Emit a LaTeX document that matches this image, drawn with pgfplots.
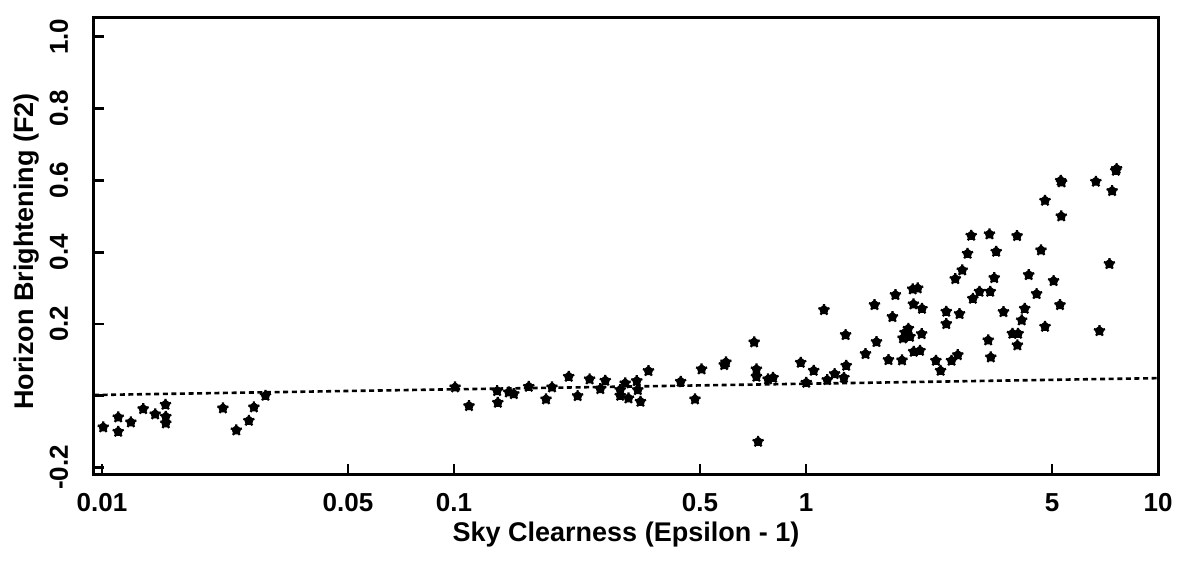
\documentclass[border=0pt]{standalone}
\usepackage{pgfplots}
\usepackage{pgfplotstable}
\pgfplotsset{compat=1.18}
\usepackage{fontspec}
\setmainfont{Liberation Sans}

\pgfplotstableread{
x y
0.01008 -0.0877
0.01112 -0.0599
0.01112 -0.1000
0.01208 -0.0738
0.01309 -0.0368
0.01416 -0.0515
0.01515 -0.0248
0.01518 -0.0582
0.01518 -0.0766
0.02206 -0.0348
0.02408 -0.0961
0.02614 -0.0694
0.02701 -0.0320
0.02914 0.0003
0.1007 0.0237
0.1103 -0.0284
0.1326 0.0134
0.1332 -0.0192
0.1431 0.0097
0.1479 0.0050
0.1631 0.0253
0.1826 -0.0097
0.1899 0.0237
0.2118 0.0532
0.2245 -0.0006
0.2428 0.0460
0.2604 0.0189
0.2690 0.0421
0.2966 0.0162
0.2966 0.0003
0.3064 0.0348
0.3131 -0.0070
0.3306 0.0412
0.3328 0.0162
0.3387 -0.0164
0.3568 0.0691
0.4405 0.0393
0.4838 -0.0097
0.5051 0.0738
0.5857 0.0858
0.5923 0.0933
0.7124 0.1490
0.7231 0.0738
0.7231 0.0532
0.7311 -0.1279
0.7805 0.0460
0.8063 0.0504
0.9661 0.0922
1.0019 0.0365
1.0515 0.0699
1.149 0.0440
1.1246 0.2390
1.206 0.0607
1.2814 0.0504
1.2958 0.1694
1.3009 0.0838
1.4761 0.1164
1.5652 0.2529
1.5858 0.1499
1.7152 0.0997
1.7604 0.2195
1.7952 0.2808
1.8743 0.0989
1.8864 0.1602
1.9113 0.1758
1.9541 0.1869
1.9748 0.1646
2.0097 0.2967
2.0765 0.2994
2.0190 0.2549
2.1357 0.2426
2.0230 0.1228
2.1079 0.1256
2.1312 0.1721
2.3390 0.0978
2.4118 0.0699
2.5033 0.2343
2.5033 0.2000
2.5913 0.0978
2.7000 0.1136
2.7306 0.2279
2.6552 0.3253
2.7789 0.3496
2.8774 0.3958
2.9472 0.4460
2.9785 0.2705
3.1109 0.2900
3.3365 0.2900
3.3210 0.4499
3.4696 0.4014
3.4252 0.3281
3.2937 0.1546
3.3497 0.1072
3.6392 0.2334
3.8584 0.1730
4.0041 0.1730
3.9863 0.1407
4.1000 0.2103
4.1811 0.2426
3.9781 0.4451
4.2919 0.3365
4.5204 0.2836
4.6526 0.4053
4.7753 0.1925
5.0512 0.3198
5.2665 0.2529
4.7753 0.5435
5.3116 0.5000
5.3226 0.5947
5.2900 0.5990
6.8186 0.1805
7.2778 0.3671
6.6602 0.5964
7.4082 0.5705
7.5897 0.6270
7.6300 0.6320
}\datatable

\begin{document}
\begin{tikzpicture}
\begin{axis}[
  at={(47pt,47.5pt)}, anchor=south west,
  scale only axis, width=532pt, height=228pt,
  xmode=log,
  xmin=0.00949, xmax=10,
  ymin=-0.218, ymax=1.052,
  axis line style={line width=1.5pt},
  tick style={line width=1.4pt, black},
  major tick length=5pt,
  tick align=inside,
  xtick pos=bottom, ytick pos=left,
  xtick={0.01,0.05,0.1,0.5,1,5,10},
  xticklabels={0.01,0.05,0.1,0.5,1,5,10},
  minor xtick={},
  ytick={-0.2,0,0.2,0.4,0.6,0.8,1.0},
  yticklabels={-0.2,,0.2,0.4,0.6,0.8,1.0},
  xticklabel style={font=\fontsize{13}{15}\selectfont\bfseries, anchor=base, yshift=-18.5pt},
  yticklabel style={font=\fontsize{13}{15}\selectfont\bfseries, rotate=90, anchor=base},
  yticklabel shift=13pt,
  xlabel={Sky Clearness (Epsilon - 1)},
  ylabel={Horizon Brightening (F2)},
  xlabel style={font=\fontsize{13.5}{16}\selectfont\bfseries, at={(axis description cs:0.5,-0.147)}, anchor=base},
  ylabel style={font=\fontsize{13.5}{16}\selectfont\bfseries, at={(axis description cs:-0.0573,0.488)}, anchor=base, rotate=0},
  clip=false,
]
\addplot[black, line width=1.3pt, dash pattern=on 2.5pt off 1.8pt] coordinates {(0.00949,0.002) (10,0.049)};
\addplot[only marks, mark=pentagon*, mark size=2.2pt, mark options={fill=black, draw=black, line width=0.6pt}] table[x=x,y=y] {\datatable};
\addplot[only marks, mark=star, mark size=2.9pt, mark options={draw=black, line width=1.1pt}] table[x=x,y=y] {\datatable};
\end{axis}
\pgfresetboundingbox
\path (0,0) rectangle (599pt,284.5pt);
\end{tikzpicture}
\end{document}
